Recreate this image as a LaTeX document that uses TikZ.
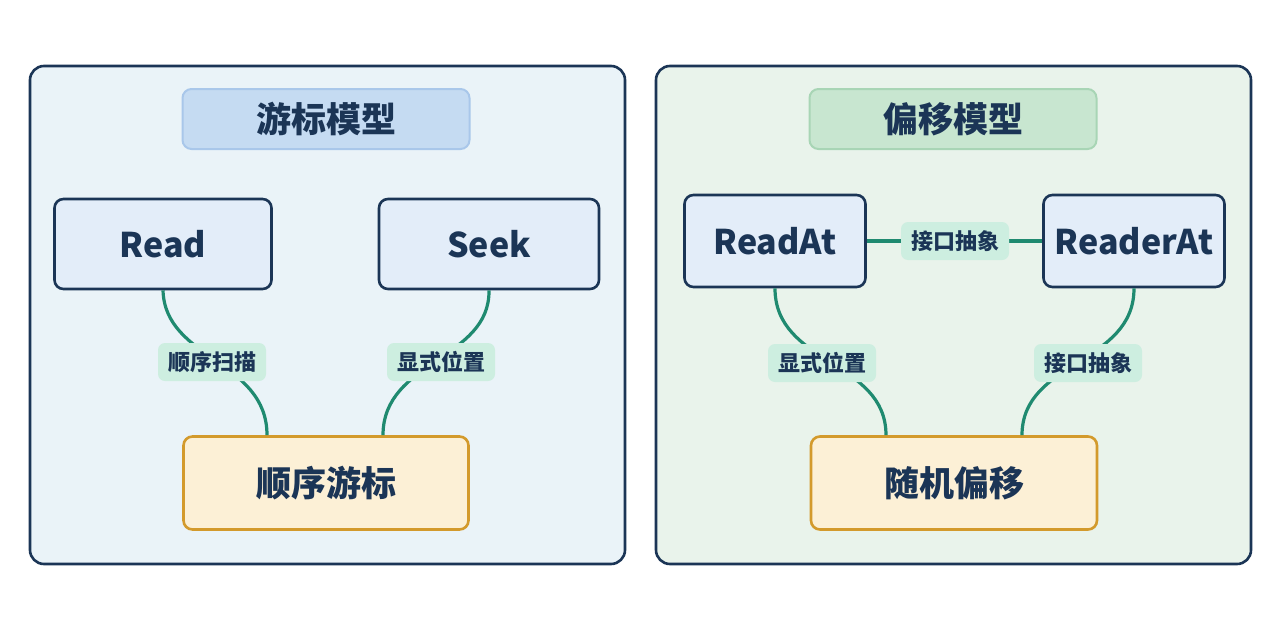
\documentclass[tikz,border=0pt]{standalone}
\usepackage{fontspec}
\setmainfont{Noto Sans CJK SC}
\begin{document}
\begin{tikzpicture}[x=1pt,y=-1pt,
 panel/.style={draw=navy,line width=2.6pt,rounded corners=14pt},
 title/.style={draw,line width=2pt,rounded corners=9pt,minimum width=287pt,minimum height=60pt,font=\fontsize{35}{40}\bfseries\selectfont,text=navy},
 box/.style={draw=navy,fill=boxfill,line width=2.6pt,rounded corners=9pt,minimum height=90pt,font=\fontsize{34}{38}\bfseries\selectfont,text=navy},
 bot/.style={draw=gold,fill=botfill,line width=2.6pt,rounded corners=9pt,minimum width=285pt,minimum height=93pt,font=\fontsize{35}{40}\bfseries\selectfont,text=navy},
 lab/.style={fill=labfill,rounded corners=7pt,minimum height=38pt,inner xsep=10pt,font=\fontsize{22}{26}\bfseries\selectfont,text=navy},
 wire/.style={draw=teal2,line width=3.2pt}]
\definecolor{navy}{HTML}{1B3556}
\definecolor{boxfill}{HTML}{E3EDF9}
\definecolor{botfill}{HTML}{FCF0D6}
\definecolor{gold}{HTML}{D39A2C}
\definecolor{labfill}{HTML}{CDEEE0}
\definecolor{teal2}{HTML}{1F8A70}
\fill[white] (0,0) rectangle (1280,640);
\useasboundingbox (0,0) rectangle (1280,640);
\draw[panel,fill={rgb,255:red,234;green,243;blue,248}] (30,66) rectangle (625,564);
\draw[panel,fill={rgb,255:red,233;green,243;blue,235}] (656,66) rectangle (1251,564);
\node[title,draw={rgb,255:red,169;green,199;blue,234},fill={rgb,255:red,197;green,219;blue,242}] (t1) at (326,119) {游标模型};
\node[title,draw={rgb,255:red,168;green,213;blue,181},fill={rgb,255:red,200;green,230;blue,208}] (t2) at (953,119) {偏移模型};
\node[box,minimum width=217pt] (read) at (163,244) {Read};
\node[box,minimum width=220pt] (seek) at (489,244) {Seek};
\node[bot] (b1) at (326,483) {顺序游标};
\node[box,minimum width=181pt,minimum height=92pt] (ra) at (775,241) {ReadAt};
\node[box,minimum width=181pt,minimum height=92pt] (rda) at (1134,241) {ReaderAt};
\node[bot,minimum width=286pt] (b2) at (954,483) {随机偏移};
\coordinate (e1) at ([xshift=-59pt]b1.north);
\coordinate (e2) at ([xshift=57pt]b1.north);
\coordinate (e3) at ([xshift=-68pt]b2.north);
\coordinate (e4) at ([xshift=68pt]b2.north);
\draw[wire] (read.south) .. controls (165,360) and (267,360) .. (e1);
\draw[wire] (seek.south) .. controls (490,360) and (383,360) .. (e2);
\draw[wire] (ra.south) .. controls (775,365) and (886,360) .. (e3);
\draw[wire] (rda.south) .. controls (1134,365) and (1022,360) .. (e4);
\draw[wire] (ra.east) -- (rda.west);
\node[lab] (l1) at (212,362) {顺序扫描};
\node[lab] (l2) at (441,362) {显式位置};
\node[lab] (l3) at (955,241) {接口抽象};
\node[lab] (l4) at (822,363) {显式位置};
\node[lab] (l5) at (1088,363) {接口抽象};
\end{tikzpicture}
\end{document}
